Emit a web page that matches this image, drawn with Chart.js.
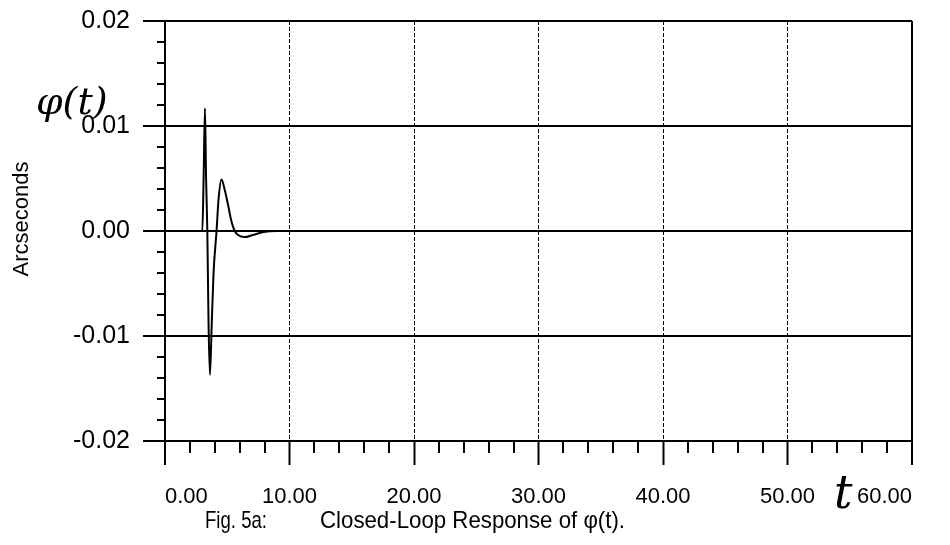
<!DOCTYPE html>
<html>
<head>
<meta charset="utf-8">
<script src="https://cdn.jsdelivr.net/npm/chart.js@4.4.1/dist/chart.umd.min.js"></script>
<style>
  html, body { margin: 0; padding: 0; background: #fff; }
  #wrap { width: 950px; height: 545px; }
</style>
</head>
<body>
<div id="wrap"><canvas id="phiChart" width="950" height="545"></canvas></div>
<script>
// time (s) and phi(t) in arcseconds
var timeValues = [0, 2.9, 3.0, 3.1, 3.21, 3.3, 3.4, 3.5, 3.61, 3.75, 3.9, 4.14, 4.3, 4.54, 4.8, 5.08, 5.3, 5.6, 5.9, 6.4, 7.0, 7.9, 9.0, 20, 30, 40, 50, 60];
var phiValues = [0, 0, 0, 0.005, 0.0117, 0.005, 0, -0.009, -0.0137, -0.009, -0.004, 0, 0.003, 0.0049, 0.0039, 0.0024, 0.0011, 0, -0.0004, -0.00058, -0.0004, -0.0001, 0, 0, 0, 0, 0, 0];

var xTicks = [0, 10, 20, 30, 40, 50, 60];
var yTicks = [-0.02, -0.01, 0, 0.01, 0.02];
var xMinorStep = 2;
var yMinorStep = 0.002;

var points = timeValues.map(function (t, i) {
    return { x: t, y: phiValues[i] };
});

Chart.defaults.font.family = "'Liberation Sans', Arial, sans-serif";
Chart.defaults.color = '#000';

// draw text squeezed to a given width (the figure uses a narrow face)
function fitText(ctx, txt, x, y, w) {
    var m = ctx.measureText(txt).width;
    ctx.save();
    ctx.translate(x, y);
    ctx.scale(Math.min(1, w / m), 1);
    ctx.fillText(txt, 0, 0);
    ctx.restore();
}

// minor tick marks + the extra text around the plot
var extras = {
    id: 'extras',
    afterDraw: function (chart) {
        var ctx = chart.ctx;
        var xs = chart.scales.x, ys = chart.scales.y;
        var area = chart.chartArea;
        ctx.save();
        ctx.strokeStyle = '#000';
        ctx.lineWidth = 2;
        ctx.beginPath();
        var k, v, p;
        for (k = -10; k <= 10; k++) {
            if (k % 5 === 0) continue;
            v = k * yMinorStep;
            p = Math.round(ys.getPixelForValue(v));
            ctx.moveTo(area.left - 8, p);
            ctx.lineTo(area.left, p);
        }
        for (k = 0; k <= 30; k++) {
            v = k * xMinorStep;
            if (v % 10 === 0) continue;
            p = Math.round(xs.getPixelForValue(v));
            ctx.moveTo(p, area.bottom);
            ctx.lineTo(p, area.bottom + 12);
        }
        ctx.stroke();

        ctx.fillStyle = '#000';
        ctx.textBaseline = 'middle';
        ctx.font = "24px 'Liberation Sans', Arial, sans-serif";
        ctx.textAlign = 'left';
        fitText(ctx, 'Fig. 5a:', 205, 521, 62);
        fitText(ctx, 'Closed-Loop Response of \u03c6(t).', 320, 521, 305);

        ctx.save();
        ctx.font = "22px 'Liberation Sans', Arial, sans-serif";
        ctx.translate(22, 219);
        ctx.rotate(-Math.PI / 2);
        ctx.textAlign = 'center';
        ctx.fillText('Arcseconds', 0, 0);
        ctx.restore();

        ctx.textBaseline = 'alphabetic';
        ctx.font = "italic 38px 'DejaVu Serif', serif";
        ctx.fillText('\u03c6(t)', 36, 114);
        ctx.font = "italic 46px 'DejaVu Serif', serif";
        ctx.fillText('t', 834, 508);
        ctx.restore();
    }
};

var ctx = document.getElementById('phiChart').getContext('2d');

var myChart = new Chart(ctx, {
    type: 'line',
    data: {
        datasets: [{
            label: 'phi(t)',
            data: points,
            borderColor: '#000',
            borderWidth: 2,
            pointRadius: 0,
            cubicInterpolationMode: 'monotone',
            fill: false
        }]
    },
    options: {
        responsive: false,
        animation: false,
        layout: { padding: { left: 0, right: 38, top: 21, bottom: 0 } },
        plugins: { legend: { display: false }, tooltip: { enabled: false } },
        scales: {
            x: {
                type: 'linear',
                min: xTicks[0],
                max: xTicks[xTicks.length - 1],
                afterBuildTicks: function (scale) {
                    scale.ticks = xTicks.map(function (v) { return { value: v }; });
                },
                afterFit: function (scale) {
                    scale.height = 104;
                    scale.paddingLeft = 0;
                    scale.paddingRight = 0;
                },
                ticks: {
                    align: 'inner',
                    padding: 19,
                    font: { size: 22 },
                    callback: function (v) { return Number(v).toFixed(2); }
                },
                grid: {
                    color: '#000',
                    lineWidth: function (c) {
                        return (c.index === 0 || c.index === xTicks.length - 1) ? 2 : 1;
                    },
                    tickLength: 24,
                    tickWidth: 2,
                    tickColor: '#000'
                },
                border: {
                    display: true,
                    color: '#000',
                    width: 2,
                    dash: function (c) {
                        return (c.index === 0 || c.index === xTicks.length - 1) ? [] : [4, 2];
                    }
                }
            },
            y: {
                min: yTicks[0],
                max: yTicks[yTicks.length - 1],
                afterBuildTicks: function (scale) {
                    scale.ticks = yTicks.map(function (v) { return { value: v }; });
                },
                afterFit: function (scale) {
                    scale.width = 165;
                    scale.paddingTop = 0;
                    scale.paddingBottom = 0;
                },
                ticks: {
                    padding: 13,
                    font: { size: 25 },
                    callback: function (v) { return Number(v).toFixed(2); }
                },
                grid: {
                    color: '#000',
                    lineWidth: 2,
                    tickLength: 22,
                    tickWidth: 2,
                    tickColor: '#000'
                },
                border: { display: true, color: '#000', width: 2 }
            }
        }
    },
    plugins: [extras]
});
</script>
</body>
</html>
